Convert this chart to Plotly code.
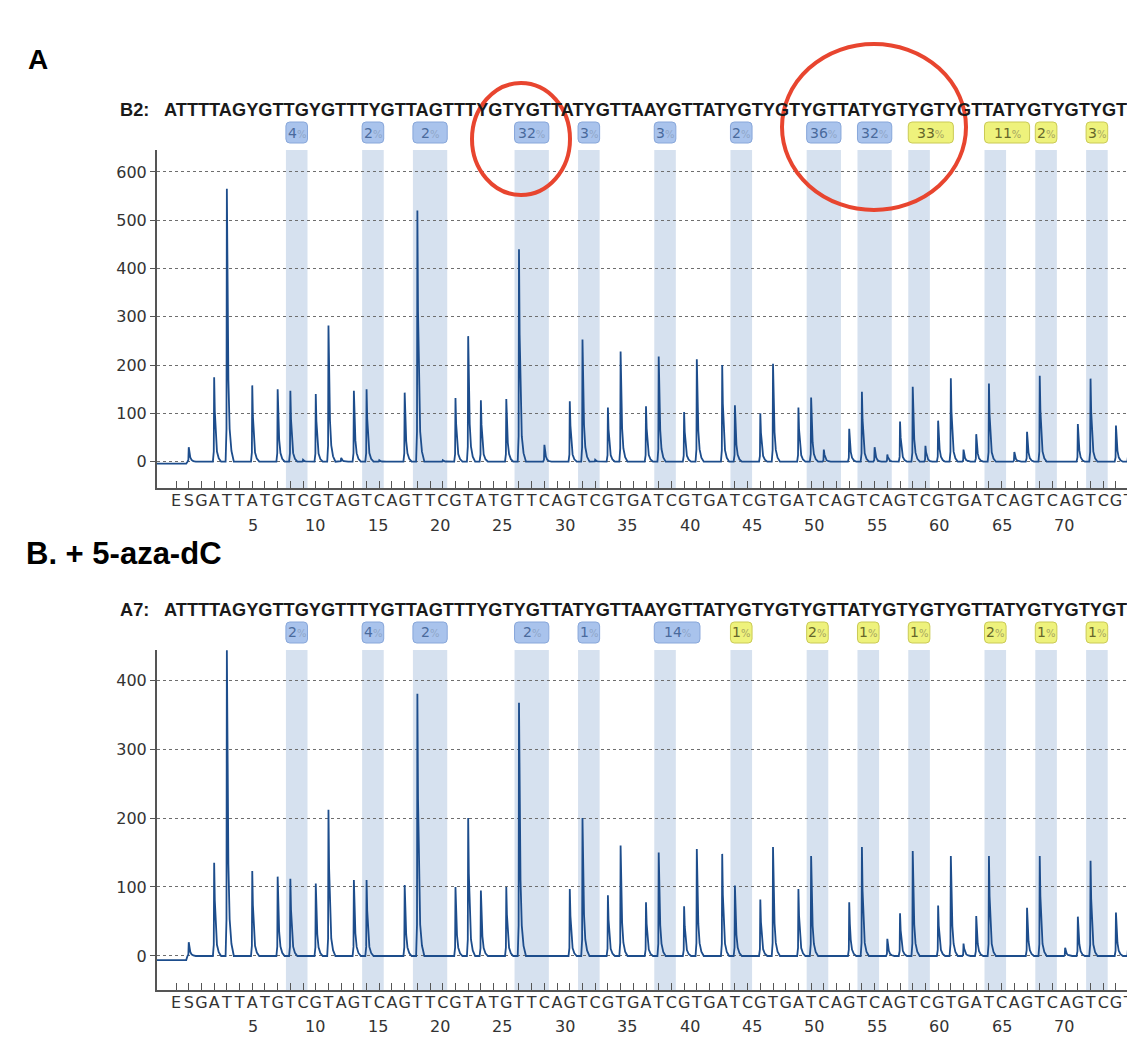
import plotly.graph_objects as go

# ---------------- data ----------------
dispensation = list("ESGATTATGTCGTAGTCAGTTCGTATGTTCAGTCGTGATCGTGATCGTGATCAGTCAGTCGTGATCAGTCAGTCGT")
number_labels = [5, 10, 15, 20, 25, 30, 35, 40, 45, 50, 55, 60, 65, 70]

sample_A = "B2:"
sample_B = "A7:"
sequence = "ATTTTAGYGTTGYGTTTYGTTAGTTTYGTYGTTATYGTTAAYGTTATYGTYGTYGTTATYGTYGTYGTTATYGTYGTYGT"

# peak heights per dispensation (index into `dispensation`)
peak_idx_A = [1, 3, 4, 6, 8, 9, 10, 11, 12, 13, 14, 15, 16, 18, 19, 21, 22, 23, 24, 26, 27, 29, 31, 32, 33, 34, 35,
              37, 38, 40, 41, 43, 44, 46, 47, 49, 50, 51, 53, 54, 55, 56, 57, 58, 59, 60, 61, 62, 63, 64, 66, 67,
              68, 71, 72, 74, 75]
peak_val_A = [30, 175, 565, 158, 150, 147, 4, 140, 282, 8, 147, 150, 3, 143, 520, 3, 132, 260, 127, 130, 440, 35, 125,
              253, 4, 112, 228, 115, 218, 103, 212, 200, 117, 100, 203, 112, 133, 25, 68, 145, 30, 15, 83, 155, 33,
              85, 173, 25, 57, 162, 20, 62, 178, 78, 172, 75, 145]

peak_idx_B = [1, 3, 4, 6, 8, 9, 11, 12, 14, 15, 18, 19, 22, 23, 24, 26, 27, 31, 32, 34, 35, 37, 38, 40, 41, 43, 44,
              46, 47, 49, 50, 53, 54, 56, 57, 58, 60, 61, 62, 63, 64, 67, 68, 70, 71, 72, 74, 75]
peak_val_B = [20, 135, 443, 123, 115, 112, 105, 212, 110, 110, 103, 380, 100, 200, 95, 100, 367, 97, 200, 88, 160,
              78, 150, 72, 155, 148, 102, 82, 158, 97, 145, 78, 158, 25, 62, 152, 73, 145, 18, 58, 145, 70, 145,
              12, 57, 138, 63, 140]

# CpG sites: first and last dispensation covered, methylation %, colour class, extra label-box width
cpg_first_A = [9, 15, 19, 27, 32, 38, 44, 50, 54, 58, 64, 68, 72]
cpg_last_A = [10, 16, 21, 29, 33, 39, 45, 52, 56, 59, 65, 69, 73]
cpg_pct_A = [4, 2, 2, 32, 3, 3, 2, 36, 32, 33, 11, 2, 3]
cpg_kind_A = ["b", "b", "b", "b", "b", "b", "b", "b", "b", "y", "y", "y", "y"]
box_extra_A = [0, 0, 0, 0, 0, 0, 0, 0, 0, 1.85, 1.85, 0, 0]

cpg_first_B = [9, 15, 19, 27, 32, 38, 44, 50, 54, 58, 64, 68, 72]
cpg_last_B = [10, 16, 21, 29, 33, 39, 45, 51, 55, 59, 65, 69, 73]
cpg_pct_B = [2, 4, 2, 2, 1, 14, 1, 2, 1, 1, 2, 1, 1]
cpg_kind_B = ["b", "b", "b", "b", "b", "b", "y", "y", "y", "y", "y", "y", "y"]
box_extra_B = [0, 0, 0, 0, 0, 1.9, 0, 0, 0, 0, 0, 0, 0]

yticks_A = [0, 100, 200, 300, 400, 500, 600]
yticks_B = [0, 100, 200, 300, 400]

# ---------------- layout constants ----------------
OFF = 8                      # page body margin
PW, PH = 1135, 1038          # visible page
W, H = PW - OFF, PH - OFF    # figure size
L = 157 - OFF                # left margin (figure px)
XR = [-1.5, 75.5]


def py(p):  # page pixel y -> paper
    return (H - (p - OFF)) / H


def px(p):  # page pixel x -> paper
    return (p - OFF - L) / (W - L)


dom_A = [py(488), py(150)]
dom_B = [py(990), py(650)]
yr_A = [-54.5, 645.5]
yr_B = [-49.3, 443.5]

LINE = "#1d4d8c"
BAND = "rgba(210,222,237,0.9)"
AXC = "#555555"

# peak drawing profile (offset in dispensation units, fraction of height)
profile = [(-0.10, 0.0), (-0.03, 0.12), (0.0, 1.0), (0.05, 0.6), (0.12, 0.3), (0.22, 0.12),
           (0.36, 0.04), (0.55, 0.0)]


def trace_xy(idx, vals, pre):
    xs = [XR[0], 0.8]
    ys = [pre, pre]
    for k, v in zip(idx, vals):
        for dx, f in profile:
            xs.append(k + dx)
            ys.append(v * f)
    xs.append(XR[1])
    ys.append(0)
    return xs, ys


fig = go.Figure()
xa, ya = trace_xy(peak_idx_A, peak_val_A, -4)
fig.add_trace(go.Scatter(x=xa, y=ya, mode="lines", line=dict(color=LINE, width=1.8),
                         xaxis="x", yaxis="y", hoverinfo="skip", showlegend=False))
xb, yb = trace_xy(peak_idx_B, peak_val_B, -6)
fig.add_trace(go.Scatter(x=xb, y=yb, mode="lines", line=dict(color=LINE, width=1.8),
                         xaxis="x2", yaxis="y2", hoverinfo="skip", showlegend=False))

shapes = []
annotations = []


def rrect(x0, x1, y0, y1, rx, ry):
    return (f"M {x0+rx},{y0} L {x1-rx},{y0} Q {x1},{y0} {x1},{y0+ry} L {x1},{y1-ry} Q {x1},{y1} {x1-rx},{y1} "
            f"L {x0+rx},{y1} Q {x0},{y1} {x0},{y1-ry} L {x0},{y0+ry} Q {x0},{y0} {x0+rx},{y0} Z")


def panel(xref, yref, firsts, lasts, pcts, kinds, extras, box_top, box_bot):
    for a, b, p, kd, ex in zip(firsts, lasts, pcts, kinds, extras):
        x0, x1 = a - 0.35, b + 0.35
        shapes.append(dict(type="rect", xref=xref, yref=yref + " domain", x0=x0, x1=x1, y0=0, y1=1,
                           fillcolor=BAND, line=dict(width=0), layer="below"))
        if kd == "b":
            fill, edge, tc, pc = "#a9c3ec", "#88a7da", "#4a6a9c", "#8fa6c8"
        else:
            fill, edge, tc, pc = "#eef27c", "#caca55", "#66662a", "#a6a660"
        bx1 = x1 + ex
        shapes.append(dict(type="path", xref=xref, yref="paper",
                           path=rrect(x0, bx1, py(box_bot), py(box_top), 0.3, 4 / H),
                           fillcolor=fill, line=dict(color=edge, width=1), layer="above"))
        annotations.append(dict(x=(x0 + bx1) / 2, y=py((box_top + box_bot) / 2), xref=xref, yref="paper",
                                text=f"{p}<span style='font-size:10px;color:{pc}'>%</span>", showarrow=False,
                                font=dict(family="DejaVu Sans", size=14, color=tc),
                                xanchor="center", yanchor="middle"))


panel("x", "y", cpg_first_A, cpg_last_A, cpg_pct_A, cpg_kind_A, box_extra_A, 122, 143)
panel("x2", "y2", cpg_first_B, cpg_last_B, cpg_pct_B, cpg_kind_B, box_extra_B, 622, 643)

# number labels under the dispensation letters
for xref, ypix in (("x", 525), ("x2", 1026)):
    for n in number_labels:
        annotations.append(dict(x=n + 1.05 - 0.0175 * (n - 5), y=py(ypix), xref=xref, yref="paper", text=str(n),
                                showarrow=False, font=dict(family="DejaVu Sans", size=16, color="#333333"),
                                xanchor="center", yanchor="middle"))

# sequence headers
for name, ypix in ((sample_A, 110), (sample_B, 610)):
    annotations.append(dict(x=px(118), y=py(ypix), xref="paper", yref="paper", text=f"<b>{name}</b>",
                            showarrow=False, font=dict(family="Liberation Sans", size=18.2, color="#1a1a1a"),
                            xanchor="left", yanchor="middle"))
    annotations.append(dict(x=px(162), y=py(ypix), xref="paper", yref="paper", text=f"<b>{sequence}</b>",
                            showarrow=False, font=dict(family="Liberation Sans", size=18.2, color="#1a1a1a"),
                            xanchor="left", yanchor="middle"))

# panel titles
annotations.append(dict(x=px(26), y=py(60), xref="paper", yref="paper", text="<b>A</b>", showarrow=False,
                        font=dict(family="Liberation Sans", size=28, color="#000"), xanchor="left",
                        yanchor="middle"))
annotations.append(dict(x=px(24), y=py(553), xref="paper", yref="paper", text="<b>B. + 5-aza-dC</b>",
                        showarrow=False, font=dict(family="Liberation Sans", size=31, color="#000"),
                        xanchor="left", yanchor="middle"))

# red highlight circles
RED = "#e8452f"
shapes.append(dict(type="circle", xref="paper", yref="paper", x0=px(472), x1=px(570), y0=py(195), y1=py(83),
                   line=dict(color=RED, width=4), layer="above"))
shapes.append(dict(type="circle", xref="paper", yref="paper", x0=px(782), x1=px(966), y0=py(210), y1=py(44),
                   line=dict(color=RED, width=4), layer="above"))

xaxis_common = dict(range=XR, tickmode="array", tickvals=list(range(len(dispensation))), ticktext=dispensation,
                    tickangle=0, ticks="inside", ticklen=7, tickcolor=AXC, tickwidth=1,
                    showline=True, linecolor=AXC, linewidth=2, showgrid=False, zeroline=False,
                    tickfont=dict(family="DejaVu Sans", size=16, color="#333333"), fixedrange=True,
                    automargin=False, ticklabelstandoff=-3)
yaxis_common = dict(tickmode="array", ticks="outside", ticklen=5, tickcolor=AXC, showline=True,
                    linecolor=AXC, linewidth=2, showgrid=True, gridcolor="#6e6e6e", griddash="3px,3px",
                    gridwidth=1, zeroline=False, tickfont=dict(family="DejaVu Sans", size=16, color="#333333"),
                    automargin=False)

fig.update_layout(
    width=W, height=H, margin=dict(l=L, r=0, t=0, b=0),
    paper_bgcolor="white", plot_bgcolor="white", showlegend=False,
    xaxis=dict(domain=[0, 1], anchor="y", **xaxis_common),
    yaxis=dict(domain=dom_A, range=yr_A, tickvals=yticks_A, anchor="x", **yaxis_common),
    xaxis2=dict(domain=[0, 1], anchor="y2", **xaxis_common),
    yaxis2=dict(domain=dom_B, range=yr_B, tickvals=yticks_B, anchor="x2", **yaxis_common),
    shapes=shapes, annotations=annotations,
)

fig.write_html("out.html")
